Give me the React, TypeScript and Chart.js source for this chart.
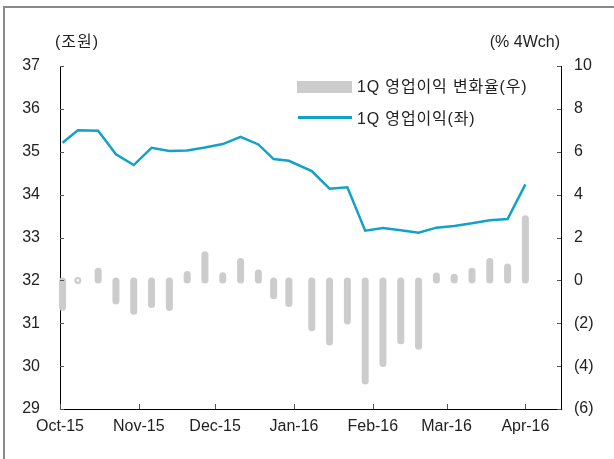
import React, { useEffect, useRef } from 'react';
import { Chart, registerables } from 'chart.js';

Chart.register(...registerables);

// ---- data ----
const weekDates = [
  '2015-10-02', '2015-10-08', '2015-10-16', '2015-10-23', '2015-10-30',
  '2015-11-06', '2015-11-13', '2015-11-20', '2015-11-27',
  '2015-12-04', '2015-12-11', '2015-12-18', '2015-12-24', '2015-12-30',
  '2016-01-08', '2016-01-15', '2016-01-22', '2016-01-29',
  '2016-02-05', '2016-02-12', '2016-02-19', '2016-02-26',
  '2016-03-04', '2016-03-11', '2016-03-18', '2016-03-25',
  '2016-04-01',
];
// 1Q 영업이익 (조원, left axis)
const opProfit = [
  35.21, 35.5, 35.49, 34.94, 34.69,
  35.09, 35.02, 35.03, 35.1,
  35.18, 35.35, 35.17, 34.83, 34.79,
  34.55, 34.14, 34.17, 33.16,
  33.22, 33.17, 33.11, 33.23,
  33.27, 33.33, 33.4, 33.43,
  34.24,
];
// 1Q 영업이익 변화율 (% 4Wch, right axis)
const opChange = [
  -1.25, 0, 0.43, -0.96, -1.44,
  -1.13, -1.27, 0.27, 1.19,
  0.22, 0.88, 0.34, -0.72, -1.08,
  -2.21, -2.87, -1.89, -4.69,
  -3.88, -2.82, -3.07, 0.2,
  0.15, 0.43, 0.88, 0.62,
  2.87,
];
const axisStart = '2015-10-01';
const axisEnd = '2016-04-15';
const monthStarts = ['2015-10-01', '2015-11-01', '2015-12-01', '2016-01-01', '2016-02-01', '2016-03-01', '2016-04-01'];
const monthLabels = ['Oct-15', 'Nov-15', 'Dec-15', 'Jan-16', 'Feb-16', 'Mar-16', 'Apr-16'];
const leftTicks = [29, 30, 31, 32, 33, 34, 35, 36, 37];
const rightTicks = [-6, -4, -2, 0, 2, 4, 6, 8, 10];
const leftUnit = '(조원)';
const rightUnit = '(% 4Wch)';
const barLabel = '1Q 영업이익 변화율(우)';
const lineLabel = '1Q 영업이익(좌)';

// ---- style ----
const FONT = '"Liberation Sans", "Noto Sans CJK KR", Arial, sans-serif';
const TEXT = '#222222';
const BAR = '#cccccc';
const LINE = '#12a2c8';

const DAY = 86400000;
const dayOf = (d: string) => Math.round((Date.parse(d + 'T00:00:00Z') - Date.parse(axisStart + 'T00:00:00Z')) / DAY);

const roundBars = {
  id: 'roundBars',
  beforeDatasetsDraw(chart: any) {
    const meta = chart.getDatasetMeta(0);
    const ctx = chart.ctx;
    ctx.save();
    ctx.strokeStyle = BAR;
    ctx.fillStyle = BAR;
    ctx.lineWidth = 7;
    ctx.lineCap = 'round';
    meta.data.forEach((el: any) => {
      const { x, y, base } = el.getProps(['x', 'y', 'base'], true);
      if (Math.abs(y - base) < 0.5) {
        ctx.beginPath();
        ctx.arc(x, base, 3.5, 0, Math.PI * 2);
        ctx.fill();
        ctx.save();
        ctx.fillStyle = '#ffffff';
        ctx.beginPath();
        ctx.arc(x, base, 1.3, 0, Math.PI * 2);
        ctx.fill();
        ctx.restore();
      } else {
        ctx.beginPath();
        ctx.moveTo(x, base);
        ctx.lineTo(x, y);
        ctx.stroke();
      }
    });
    ctx.restore();
  },
};

const insideTicks = {
  id: 'insideTicks',
  afterDraw(chart: any) {
    const { ctx, chartArea, scales } = chart;
    ctx.save();
    ctx.strokeStyle = '#555555';
    ctx.lineWidth = 1;
    ctx.beginPath();
    scales.x.ticks.forEach((t: any) => {
      const px = Math.round(scales.x.getPixelForValue(t.value)) + 0.5;
      ctx.moveTo(px, chartArea.bottom);
      ctx.lineTo(px, chartArea.bottom - 5);
    });
    scales.y.ticks.forEach((t: any) => {
      const py = Math.round(scales.y.getPixelForValue(t.value)) + 0.5;
      ctx.moveTo(chartArea.left, py);
      ctx.lineTo(chartArea.left + 4, py);
    });
    scales.y1.ticks.forEach((t: any) => {
      const py = Math.round(scales.y1.getPixelForValue(t.value)) + 0.5;
      ctx.moveTo(chartArea.right, py);
      ctx.lineTo(chartArea.right - 4, py);
    });
    ctx.stroke();
    ctx.restore();
  },
};

export default function App() {
  const ref = useRef<HTMLCanvasElement>(null);

  useEffect(() => {
    const xs = weekDates.map(dayOf);
    const chart = new Chart(ref.current as HTMLCanvasElement, {
      type: 'bar',
      data: {
        datasets: [
          {
            type: 'bar',
            label: barLabel,
            data: xs.map((x, i) => ({ x, y: opChange[i] })),
            yAxisID: 'y1',
            xAxisID: 'x',
            backgroundColor: 'rgba(0,0,0,0)',
            borderWidth: 0,
            barThickness: 7,
            order: 2,
          } as any,
          {
            type: 'line',
            label: lineLabel,
            data: xs.map((x, i) => ({ x, y: opProfit[i] })),
            yAxisID: 'y',
            xAxisID: 'x',
            borderColor: LINE,
            borderWidth: 2.5,
            pointRadius: 0,
            tension: 0,
            fill: false,
            order: 1,
          } as any,
        ],
      },
      options: {
        responsive: false,
        animation: false,
        devicePixelRatio: 1,
        layout: { padding: { top: 66, left: 0, right: 0, bottom: 0 } },
        plugins: { legend: { display: false }, tooltip: { enabled: false } },
        scales: {
          x: {
            type: 'linear',
            offset: false,
            min: dayOf(axisStart),
            max: dayOf(axisEnd),
            afterBuildTicks: (scale: any) => {
              scale.ticks = monthStarts.map((d) => ({ value: dayOf(d) }));
            },
            afterFit: (scale: any) => { scale.height = 50; },
            ticks: {
              autoSkip: false,
              maxRotation: 0,
              padding: 8,
              color: TEXT,
              font: { family: FONT, size: 16 },
              callback: (_v: any, i: number) => monthLabels[i],
            },
            grid: { display: true, offset: false, drawOnChartArea: false, drawTicks: false },
            border: { display: true, color: '#000000', width: 1 },
          },
          y: {
            type: 'linear',
            position: 'left',
            min: leftTicks[0],
            max: leftTicks[leftTicks.length - 1],
            afterBuildTicks: (scale: any) => {
              scale.ticks = leftTicks.map((v) => ({ value: v }));
            },
            afterFit: (scale: any) => { scale.width = 60; },
            ticks: {
              padding: 20,
              color: TEXT,
              font: { family: FONT, size: 16 },
              callback: (v: any) => String(v),
            },
            grid: { display: true, drawOnChartArea: false, drawTicks: false },
            border: { display: true, color: '#000000', width: 1 },
          },
          y1: {
            type: 'linear',
            position: 'right',
            min: rightTicks[0],
            max: rightTicks[rightTicks.length - 1],
            afterBuildTicks: (scale: any) => {
              scale.ticks = rightTicks.map((v) => ({ value: v }));
            },
            afterFit: (scale: any) => { scale.width = 53; },
            ticks: {
              padding: 13,
              color: TEXT,
              font: { family: FONT, size: 16 },
              callback: (v: any) => (v < 0 ? `(${-v})` : String(v)),
            },
            grid: { display: true, drawOnChartArea: false, drawTicks: false },
            border: { display: true, color: '#000000', width: 1 },
          },
        },
      } as any,
      plugins: [roundBars, insideTicks],
    });
    return () => chart.destroy();
  }, []);

  const textStyle: React.CSSProperties = {
    position: 'absolute',
    fontFamily: FONT,
    fontSize: 16,
    lineHeight: '18px',
    color: TEXT,
    whiteSpace: 'nowrap',
  };

  return (
    <div style={{ position: 'fixed', left: 0, top: 0, width: 614, height: 459, background: '#ffffff', overflow: 'hidden' }}>
      <div
        style={{
          position: 'absolute', left: 3, top: 6, width: 800, height: 800,
          borderLeft: '2px solid #8a8a8a', borderTop: '2px solid #8a8a8a',
        }}
      />
      <canvas ref={ref} width={614} height={459} style={{ position: 'absolute', left: 0, top: 0, width: 614, height: 459 }} />
      <div style={{ ...textStyle, left: 55, top: 33, letterSpacing: 1 }}>{leftUnit}</div>
      <div style={{ ...textStyle, right: 54, top: 33 }}>{rightUnit}</div>
      <div style={{ position: 'absolute', left: 297, top: 81, width: 55, height: 12, background: BAR }} />
      <div style={{ ...textStyle, left: 357, top: 78, letterSpacing: 0.85 }}>{barLabel}</div>
      <div style={{ position: 'absolute', left: 298, top: 116, width: 54, height: 3, background: LINE }} />
      <div style={{ ...textStyle, left: 357, top: 110, letterSpacing: 0.85 }}>{lineLabel}</div>
    </div>
  );
}
